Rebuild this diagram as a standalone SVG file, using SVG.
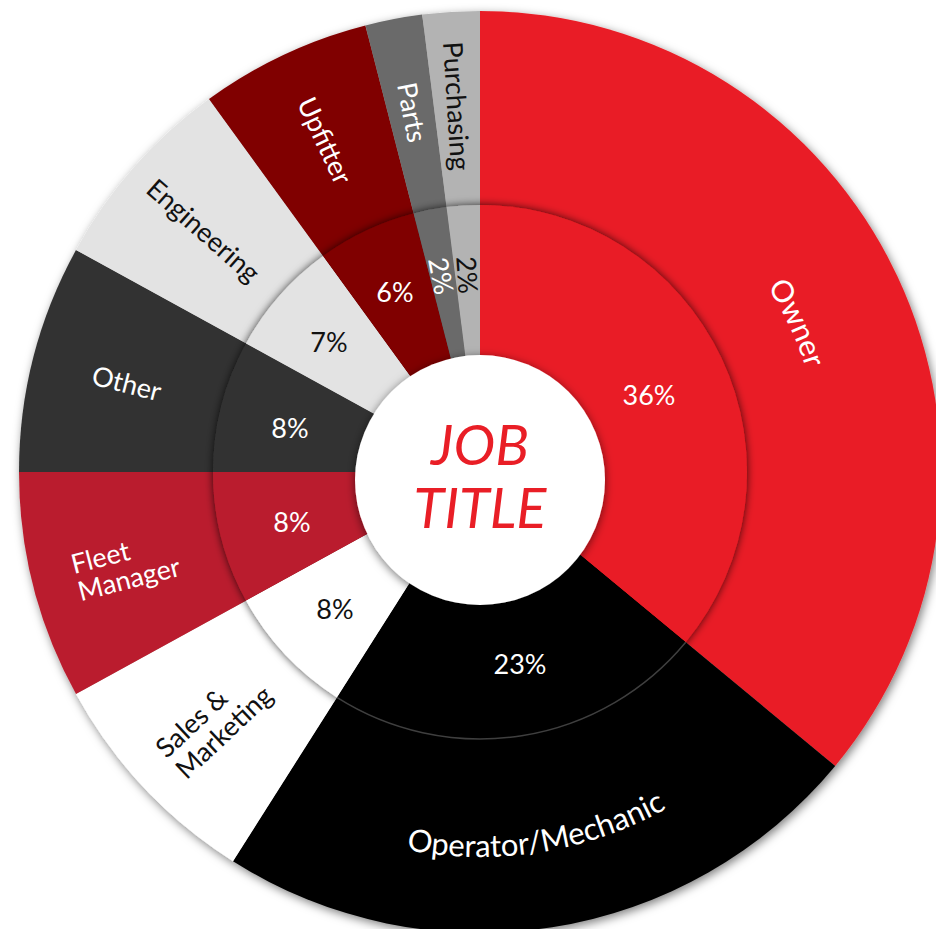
<svg xmlns="http://www.w3.org/2000/svg" width="936" height="929" viewBox="0 0 936 929">
<defs>
<filter id="shOuter" x="-10%" y="-10%" width="120%" height="120%">
<feDropShadow dx="2" dy="3" stdDeviation="5" flood-color="#000" flood-opacity="0.5"/>
</filter>
<filter id="shInner" x="-15%" y="-15%" width="130%" height="130%">
<feDropShadow dx="0" dy="0" stdDeviation="4.5" flood-color="#000" flood-opacity="0.75"/>
</filter>
<filter id="shHole" x="-20%" y="-20%" width="140%" height="140%">
<feDropShadow dx="0" dy="2" stdDeviation="5" flood-color="#000" flood-opacity="0.55"/>
</filter>
<path id="arcOwner" d="M480,130 A342,342 0 0 1 743.5,690"/>
<path id="arcOperator" d="M273.7,797.1 A385,385 0 0 0 776.6,717.4"/>
</defs>
<style>
.owner{fill:#E91E26}
.operator{fill:#000000}
.sales{fill:#FFFFFF}
.fleet{fill:#BA1F2E}
.other{fill:#333333}
.eng{fill:#E3E3E3}
.upfitter{fill:#800000}
.parts{fill:#6B6B6B}
.purch{fill:#B3B3B3}
text{font-family:Lato,"Open Sans","Liberation Sans",sans-serif}
.lbl{font-size:27px;text-anchor:middle}
.pct{font-size:27px;text-anchor:middle}
.w{fill:#FFFFFF}
.k{fill:#111111}
.title{font-size:56px;font-style:italic;fill:#E91E26;text-anchor:middle}
</style>
<rect width="936" height="929" fill="#FFFFFF"/>

<g id="outer-ring" filter="url(#shOuter)">
<path id="seg-owner" class="owner" d="M480,472 L480,11 A461,461 0 0 1 835.2,765.9 Z"/>
<path id="seg-operator" class="operator" d="M480,472 L835.2,765.9 A461,461 0 0 1 233,861.2 Z"/>
<path id="seg-sales" class="sales" d="M480,472 L233,861.2 A461,461 0 0 1 76,694.1 Z"/>
<path id="seg-fleet" class="fleet" d="M480,472 L76,694.1 A461,461 0 0 1 19,472 Z"/>
<path id="seg-other" class="other" d="M480,472 L19,472 A461,461 0 0 1 76,249.9 Z"/>
<path id="seg-eng" class="eng" d="M480,472 L76,249.9 A461,461 0 0 1 209,99 Z"/>
<path id="seg-upfitter" class="upfitter" d="M480,472 L209,99 A461,461 0 0 1 365.4,25.5 Z"/>
<path id="seg-parts" class="parts" d="M480,472 L365.4,25.5 A461,461 0 0 1 422.2,14.6 Z"/>
<path id="seg-purch" class="purch" d="M480,472 L422.2,14.6 A461,461 0 0 1 480,11 Z"/>
</g>

<g id="inner-ring" filter="url(#shInner)">
<path class="owner" d="M480,472 L480,205 A267,267 0 0 1 685.7,642.2 Z"/>
<path class="operator" d="M480,472 L685.7,642.2 A267,267 0 0 1 336.9,697.4 Z"/>
<path class="sales" d="M480,472 L336.9,697.4 A267,267 0 0 1 246,600.6 Z"/>
<path class="fleet" d="M480,472 L246,600.6 A267,267 0 0 1 213,472 Z"/>
<path class="other" d="M480,472 L213,472 A267,267 0 0 1 246,343.4 Z"/>
<path class="eng" d="M480,472 L246,343.4 A267,267 0 0 1 323.1,256 Z"/>
<path class="upfitter" d="M480,472 L323.1,256 A267,267 0 0 1 413.6,213.4 Z"/>
<path class="parts" d="M480,472 L413.6,213.4 A267,267 0 0 1 446.5,207.1 Z"/>
<path class="purch" d="M480,472 L446.5,207.1 A267,267 0 0 1 480,205 Z"/>
</g>
<path d="M685.7,642.2 A267,267 0 0 1 336.9,697.4" fill="none" stroke="#5a5a5a" stroke-width="1.5" opacity="0.7"/>

<g id="center" filter="url(#shHole)">
<circle cx="480" cy="480" r="125" fill="#FFFFFF"/>
</g>

<g id="outer-labels">
<text class="lbl w" style="font-size:30px"><textPath href="#arcOwner" startOffset="50%">Owner</textPath></text>
<text class="lbl w" style="font-size:31px"><textPath href="#arcOperator" startOffset="50%">Operator/Mechanic</textPath></text>
<text class="lbl k" transform="translate(213,724) rotate(-43.2)" style="text-anchor:start"><tspan x="-58" y="-6">Sales &amp;</tspan><tspan x="-58" y="23">Marketing</tspan></text>
<text class="lbl w" transform="translate(125.5,566) rotate(-14.4)" style="text-anchor:start"><tspan x="-52" y="-5">Fleet</tspan><tspan x="-52" y="23">Manager</tspan></text>
<text class="lbl w" transform="translate(126.5,384) rotate(14.4)" dy="9">Other</text>
<text class="lbl k" transform="translate(203,231) rotate(41.4)" dy="9">Engineering</text>
<text class="lbl w" transform="translate(324.2,140.8) rotate(64.8)" dy="9">Upfitter</text>
<text class="lbl w" transform="translate(411.4,112.5) rotate(79.2)" dy="9">Parts</text>
<text class="lbl k" transform="translate(456,106) rotate(86.4)" dy="9">Purchasing</text>
</g>

<g id="pct-labels">
<text class="pct w" x="649" y="404.5">36%</text>
<text class="pct w" x="520" y="673.5">23%</text>
<text class="pct k" x="335" y="618.5">8%</text>
<text class="pct w" x="292" y="531.5">8%</text>
<text class="pct w" x="290" y="437.5">8%</text>
<text class="pct k" x="329" y="351.5">7%</text>
<text class="pct w" x="395" y="301.5">6%</text>
<text class="pct w" transform="translate(441,276) rotate(79)" dy="9.5">2%</text>
<text class="pct k" transform="translate(467,275) rotate(86)" dy="9.5">2%</text>
</g>

<g id="title">
<text class="title" x="480" y="465">JOB</text>
<text class="title" x="480" y="528">TITLE</text>
</g>
</svg>
